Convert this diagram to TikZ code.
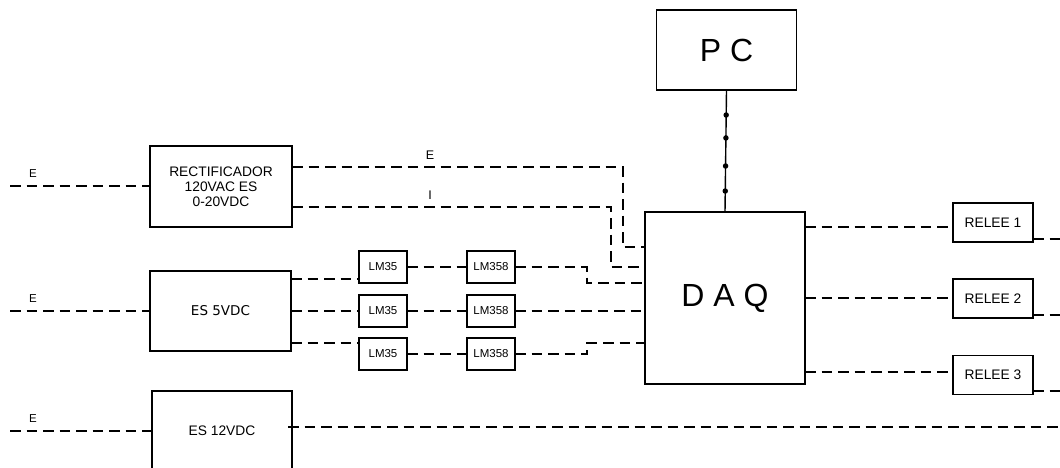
\documentclass[tikz,border=0pt]{standalone}
\usepackage{fontspec}
\setmainfont{Liberation Sans}
\newfontfamily\dejavu{DejaVu Sans}
\usetikzlibrary{calc}
\tikzset{
  blk/.style={draw, line width=1.4pt, inner sep=0pt, outer sep=0pt, align=center,
              font=\fontsize{13.8}{15}\selectfont},
  big/.style={blk, font=\fontsize{32}{36}\selectfont},
  small/.style={blk, minimum width=48pt, minimum height=32pt, font=\fontsize{11.5}{12}\selectfont},
  relbox/.style={blk, minimum width=80pt, minimum height=39pt},
  dl/.style={line width=1.7pt, dash pattern=on 10.5pt off 6pt},
  sl/.style={line width=1.4pt},
  lab/.style={inner sep=0pt, font=\fontsize{11.5}{12}\selectfont},
  labm/.style={inner sep=0pt, font=\fontsize{12.5}{14}\selectfont},
  dot/.style={circle, fill, inner sep=0pt, minimum size=5.5pt}
}
\begin{document}
\begin{tikzpicture}[x=1pt,y=-1pt]
\fill[white] (0,0) rectangle (1060,468);
\path[use as bounding box] (0,0) rectangle (1060,468);
\clip (0,0) rectangle (1060,468);

% boxes
\node[big, minimum width=140pt, minimum height=80pt] (pc) at (726.5,50) {P C};
\node[big, minimum width=160pt, minimum height=172pt] (daq) at (725,298) {D A Q};
\node[blk, minimum width=142pt, minimum height=81pt] (rect) at (221,186.5) {RECTIFICADOR\\120VAC ES\\0-20VDC};
\node[blk, minimum width=141pt, minimum height=80pt, font=\dejavu\fontsize{13.5}{15}\selectfont] (es5) at (220.5,311) {ES 5VDC};
\node[blk, minimum width=140pt, text height=44pt, text depth=45pt] (es12) at (222,435.5) {ES 12VDC};

\node[small] (lma) at (383,267) {LM35};
\node[small] (lmb) at (383,311) {LM35};
\node[small] (lmc) at (383,354) {LM35};
\node[small] (lpa) at (491,267) {LM358};
\node[small] (lpb) at (491,311) {LM358};
\node[small] (lpc) at (491,354) {LM358};

\node[relbox] (r1) at (993,222.5) {RELEE 1};
\node[relbox] (r2) at (993,298.5) {RELEE 2};
\node[relbox] (r3) at (993,375) {RELEE 3};

% free ends
\coordinate (in1) at (10,186);
\coordinate (in2) at (10,311);
\coordinate (in3) at (10,431);
\coordinate (o1) at (1062,239);
\coordinate (o2) at (1062,315);
\coordinate (o3) at (1062,391);
\coordinate (o4) at (1062,427);

% PC - DAQ bus
\draw[sl] (pc.south) -- (daq.north);
\foreach \t in {0.205,0.393,0.623,0.828}
  \node[dot] at ($(pc.south)!\t!(daq.north)$) {};

% inputs
\draw[dl] (in1) -- (in1 -| rect.west);
\draw[dl] (in2) -- (in2 -| es5.west);
\draw[dl] (in3) -- (in3 -| es12.west);
\node[lab] (e1) at (33,174) {E};
\node[lab] (e2) at (33,299) {E};
\node[lab] (e3) at (33,419) {E};

% rectifier outputs
\draw[dl] ([yshift=19.5pt]rect.east) -| ([xshift=-22pt,yshift=51pt]daq.west) -- ([yshift=51pt]daq.west);
\draw[dl] ([yshift=-20.5pt]rect.east) -| ([xshift=-34pt,yshift=31pt]daq.west) -- ([yshift=31pt]daq.west);
\node[labm] (eE) at (430,155) {E};
\node[labm] (eI) at (430,195) {I};

% sensor rows
\draw[dl] ([yshift=32pt]es5.east) -- ([yshift=-12pt]lma.west);
\draw[dl] (lma.east) -- (lpa.west);
\draw[dl] (lpa.east) -| ([xshift=-58pt,yshift=15pt]daq.west) -- ([yshift=15pt]daq.west);

\draw[dl] (es5.east) -- (lmb.west);
\draw[dl] (lmb.east) -- (lpb.west);
\draw[dl] (lpb.east) -- (lpb.east -| daq.west);

\draw[dl] ([yshift=-32pt]es5.east) -- ([yshift=11pt]lmc.west);
\draw[dl] (lmc.east) -- (lpc.west);
\draw[dl] (lpc.east) -| ([xshift=-58pt,yshift=-45pt]daq.west) -- ([yshift=-45pt]daq.west);

% DAQ to relays
\draw[dl] ([yshift=71pt]daq.east) -- ([yshift=-4.5pt]r1.west);
\draw[dl] (daq.east) -- (daq.east -| r2.west);
\draw[dl] ([yshift=-74pt]daq.east) -- ([yshift=3pt]r3.west);

% relay outputs
\draw[dl] ([yshift=-16.5pt]r1.east) -- (o1);
\draw[dl] ([yshift=-16.5pt]r2.east) -- (o2);
\draw[dl] ([yshift=-16pt]r3.east) -- (o3);

% 12V output
\draw[dl] ([xshift=-4pt,yshift=8.5pt]es12.east) -- (o4);
\end{tikzpicture}
\end{document}
